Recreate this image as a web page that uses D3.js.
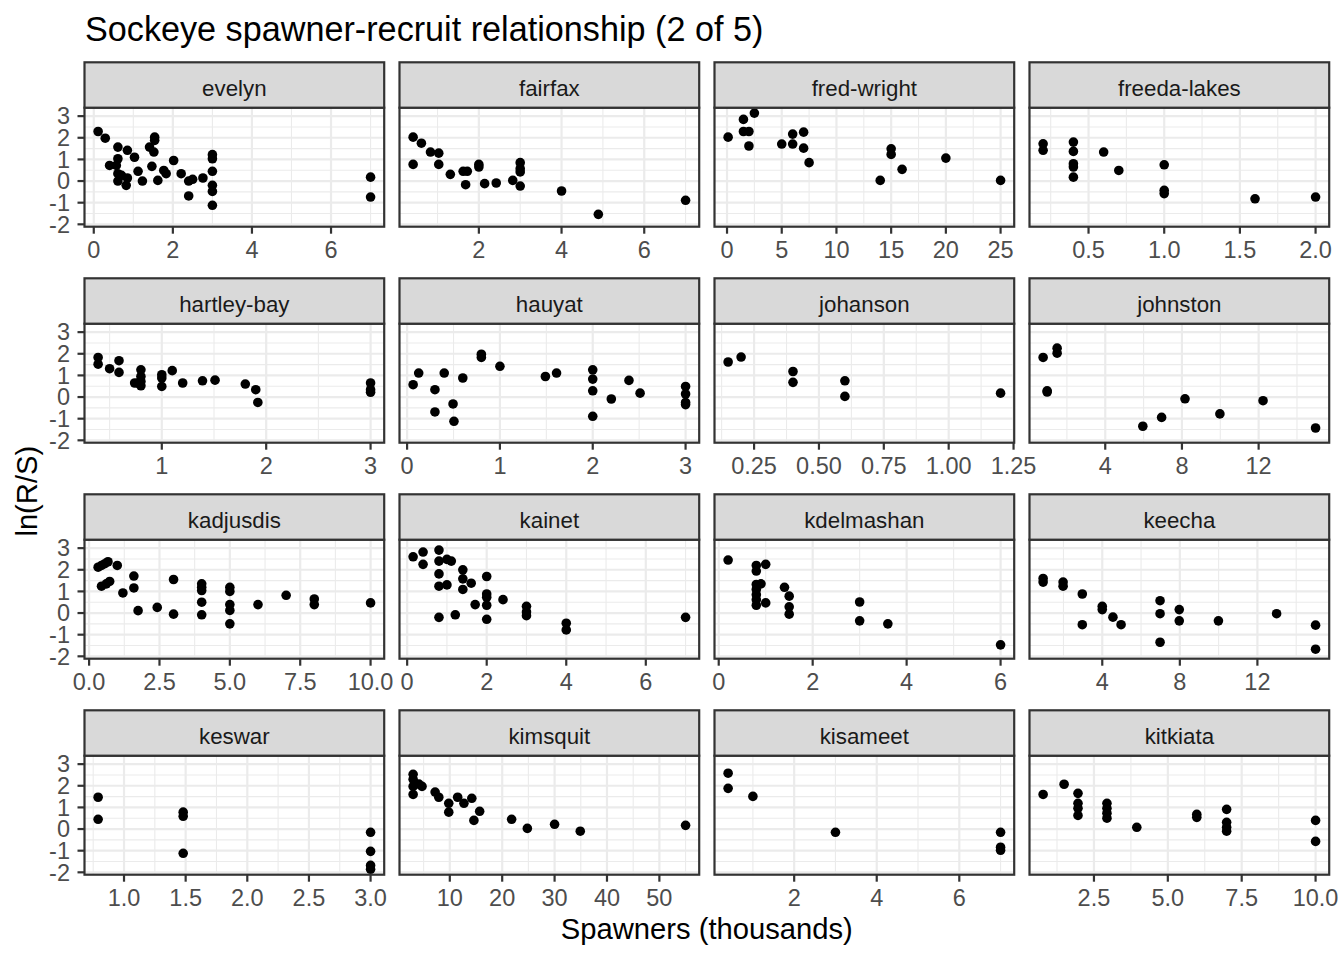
<!DOCTYPE html>
<html>
<head>
<meta charset="utf-8">
<script src="https://cdn.jsdelivr.net/npm/d3@7"></script>
<style>
  html, body { margin: 0; padding: 0; background: #ffffff; }
  svg { display: block; font-family: "Liberation Sans", Arial, sans-serif; }
</style>
</head>
<body>
<script>
// ---------------- DATA ----------------
const chartTitle = "Sockeye spawner-recruit relationship (2 of 5)";
const xTitle = "Spawners (thousands)";
const yTitle = "ln(R/S)";
const siteNames = ["evelyn","fairfax","fred-wright","freeda-lakes","hartley-bay","hauyat","johanson","johnston",
                   "kadjusdis","kainet","kdelmashan","keecha","keswar","kimsquit","kisameet","kitkiata"];

const evelynS = [0.11,0.29,0.40,0.61,0.61,0.57,0.61,0.61,0.70,0.85,0.82,0.85,1.03,1.12,1.23,1.41,1.54,1.54,1.52,1.47,1.62,1.77,1.83,2.02,2.21,2.40,2.50,2.40,2.76,3.0,3.0,3.0,3.0,3.0,3.0,7.0,7.0];
const evelynR = [2.29,1.98,0.72,1.57,1.03,0.72,0.34,0.0,0.26,0.14,-0.20,1.42,1.10,0.45,0.0,1.57,2.03,1.88,1.34,0.68,0.03,0.49,0.34,0.95,0.34,0.0,0.08,-0.69,0.14,1.22,1.03,0.45,-0.20,-0.48,-1.12,0.18,-0.74];
const fairfaxS = [0.41,0.61,0.83,1.03,0.41,1.03,1.31,1.62,1.72,1.68,2.0,2.0,2.14,2.42,2.82,3.0,3.0,3.0,3.0,4.0,4.89,7.0];
const fairfaxR = [2.03,1.75,1.34,1.29,0.77,0.77,0.31,0.45,0.45,-0.17,0.77,0.65,-0.12,-0.09,0.03,0.85,0.57,0.42,-0.23,-0.46,-1.54,-0.89];
const fredWrightS = [0.1,1.5,1.5,2.0,2.0,2.5,5.0,6.0,6.0,7.0,7.0,7.5,14.0,15.0,15.0,16.0,20.0,25.0];
const fredWrightR = [2.03,2.85,2.29,2.29,1.62,3.14,1.71,2.17,1.71,2.26,1.52,0.85,0.03,1.49,1.23,0.54,1.06,0.03];
const freedaLakesS = [0.2,0.2,0.4,0.4,0.4,0.4,0.4,0.6,0.7,1.0,1.0,1.0,1.6,2.0];
const freedaLakesR = [1.72,1.42,1.80,1.37,0.80,0.65,0.18,1.34,0.49,0.75,-0.43,-0.58,-0.82,-0.74];
const hartleyBayS = [0.39,0.39,0.50,0.59,0.59,0.74,0.77,0.80,0.80,0.80,0.80,1.0,1.0,1.0,1.10,1.20,1.39,1.51,1.80,1.90,1.92,3.0,3.0,3.0];
const hartleyBayR = [1.83,1.52,1.31,1.68,1.14,0.65,0.65,1.26,0.95,0.72,0.52,1.03,0.88,0.49,1.22,0.65,0.75,0.78,0.60,0.34,-0.25,0.65,0.34,0.22];
const hauyatS = [0.065,0.125,0.30,0.30,0.40,0.495,0.505,0.60,0.80,0.80,1.0,1.49,1.61,2.0,2.0,2.0,2.0,2.20,2.39,2.51,3.0,3.0,3.0,3.0];
const hauyatR = [0.57,1.11,0.34,-0.69,1.11,-0.32,-1.12,0.88,1.98,1.83,1.42,0.95,1.11,1.26,0.83,0.29,-0.89,-0.09,0.77,0.18,0.49,0.14,-0.25,-0.35];
const johansonS = [0.15,0.2,0.4,0.4,0.6,0.6,1.2];
const johansonR = [1.62,1.85,1.18,0.68,0.75,0.03,0.18];
const johnstonS = [0.76,0.97,0.97,1.49,1.49,5.96,6.94,8.16,9.98,12.23,14.97];
const johnstonR = [1.83,0.29,0.23,2.26,2.03,-1.35,-0.94,-0.08,-0.78,-0.17,-1.43];
const kadjusdisS = [0.32,0.44,0.56,0.67,1.0,0.44,0.61,0.73,1.2,1.59,1.59,1.74,2.42,3.0,3.0,4,4,4,4,4,5,5,5,5,5,6,7,8,8,10];
const kadjusdisR = [2.12,2.20,2.28,2.37,2.20,1.24,1.35,1.46,0.93,1.71,1.16,0.11,0.26,1.55,-0.05,1.35,1.19,1.04,0.50,-0.08,1.19,1.00,0.39,0.12,-0.50,0.39,0.82,0.65,0.39,0.47];
const kainetS = [0.15,0.40,0.40,0.8,0.8,1.0,1.11,0.8,0.8,1.0,1.40,1.40,1.40,1.61,2.0,2.0,2.0,2.0,2.0,1.71,2.41,0.8,1.21,3.0,3.0,3.0,4.0,4.0,7.0];
const kainetR = [2.60,2.82,2.25,2.91,2.40,2.48,2.40,1.81,1.24,1.30,2.00,1.58,1.09,1.38,1.69,0.88,0.73,0.36,-0.29,0.39,0.62,-0.20,-0.08,0.31,0.05,-0.12,-0.47,-0.78,-0.20];
const kdelmashanS = [0.2,0.8,0.8,1.0,0.8,0.9,0.8,0.8,0.8,0.8,1.0,1.4,1.5,1.5,1.5,3.0,3.0,3.6,6.0];
const kdelmashanR = [2.45,2.20,1.94,2.25,1.32,1.35,1.09,0.85,0.62,0.36,0.47,1.19,0.78,0.29,-0.05,0.51,-0.36,-0.50,-1.47];
const keechaS = [0.95,0.95,1.98,1.98,2.97,2.97,4.0,4.0,4.55,4.97,6.98,6.98,6.98,7.97,7.97,9.99,12.99,15.0,15.0];
const keechaR = [1.60,1.43,1.43,1.24,0.88,-0.54,0.31,0.16,-0.19,-0.54,0.57,-0.03,-1.35,0.16,-0.36,-0.36,-0.03,-0.56,-1.67];
const keswarS = [0.79,0.79,1.48,1.48,1.48,3.0,3.0,3.0,3.0];
const keswarR = [1.47,0.45,0.78,0.59,-1.12,-0.15,-1.03,-1.68,-1.86];
const kimsquitS = [3.0,3.0,3.0,3.0,4.1,4.7,7.2,7.9,9.8,9.8,11.5,12.7,14.2,14.6,15.7,21.8,24.8,30,34.9,55];
const kimsquitR = [2.53,2.30,1.97,1.60,2.08,1.97,1.71,1.47,1.19,0.78,1.47,1.19,1.42,0.40,0.82,0.45,0.03,0.22,-0.10,0.17];
const kisameetS = [0.4,0.4,1.0,3.0,7.0,7.0,7.0];
const kisameetR = [2.58,1.88,1.51,-0.15,-0.15,-0.84,-0.98];
const kitkiataS = [0.78,1.49,1.96,1.96,1.96,1.96,2.94,2.94,2.94,2.94,3.95,5.98,5.98,6.99,6.99,6.99,6.99,10.0,10.0];
const kitkiataR = [1.60,2.07,1.65,1.19,0.96,0.63,1.19,0.96,0.73,0.50,0.08,0.68,0.54,0.91,0.31,0.08,-0.10,0.40,-0.57];

// x-axis tick labels per panel
const evelynTicks = ["0","2","4","6"];
const fairfaxTicks = ["2","4","6"];
const fredWrightTicks = ["0","5","10","15","20","25"];
const freedaLakesTicks = ["0.5","1.0","1.5","2.0"];
const hartleyBayTicks = ["1","2","3"];
const hauyatTicks = ["0","1","2","3"];
const johansonTicks = ["0.25","0.50","0.75","1.00","1.25"];
const johnstonTicks = ["4","8","12"];
const kadjusdisTicks = ["0.0","2.5","5.0","7.5","10.0"];
const kainetTicks = ["0","2","4","6"];
const kdelmashanTicks = ["0","2","4","6"];
const keechaTicks = ["4","8","12"];
const keswarTicks = ["1.0","1.5","2.0","2.5","3.0"];
const kimsquitTicks = ["10","20","30","40","50"];
const kisameetTicks = ["2","4","6"];
const kitkiataTicks = ["2.5","5.0","7.5","10.0"];
// y-axis tick labels (shared)
const yTicks = ["-2","-1","0","1","2","3"];

// ---------------- LAYOUT ----------------
const panelSeries = [
  [evelynS, evelynR, evelynTicks], [fairfaxS, fairfaxR, fairfaxTicks],
  [fredWrightS, fredWrightR, fredWrightTicks], [freedaLakesS, freedaLakesR, freedaLakesTicks],
  [hartleyBayS, hartleyBayR, hartleyBayTicks], [hauyatS, hauyatR, hauyatTicks],
  [johansonS, johansonR, johansonTicks], [johnstonS, johnstonR, johnstonTicks],
  [kadjusdisS, kadjusdisR, kadjusdisTicks], [kainetS, kainetR, kainetTicks],
  [kdelmashanS, kdelmashanR, kdelmashanTicks], [keechaS, keechaR, keechaTicks],
  [keswarS, keswarR, keswarTicks], [kimsquitS, kimsquitR, kimsquitTicks],
  [kisameetS, kisameetR, kisameetTicks], [kitkiataS, kitkiataR, kitkiataTicks]
];

const W = 1344, H = 960;
const colX = [84.5, 399.5, 714.5, 1029.5];
const rowY = [62.3, 278.3, 494.3, 710.3];
const panelW = 299.7, stripH = 45.4, panelH = 119;
const tickLen = 7;
const borderCol = "#333333";
const gridCol = "#EBEBEB";

const svg = d3.select("body").append("svg").attr("width", W).attr("height", H);
svg.append("rect").attr("width", W).attr("height", H).attr("fill", "#fff");

function expand(arr) {
  const [mn, mx] = d3.extent(arr);
  const pad = (mx - mn) * 0.05;
  return [mn - pad, mx + pad];
}
function minorBreaks(majors, dom) {
  const step = majors.length > 1 ? majors[1] - majors[0] : 1;
  const ext = [majors[0] - step, ...majors, majors[majors.length - 1] + step];
  const out = [];
  for (let i = 0; i < ext.length - 1; i++) out.push((ext[i] + ext[i + 1]) / 2);
  return out.filter(v => v >= dom[0] && v <= dom[1]);
}

const allR = panelSeries.flatMap(p => p[1]);
const yDom = expand(allR);
const yMajor = yTicks.map(Number);
const yMinor = minorBreaks(yMajor, yDom);

panelSeries.forEach((p, i) => {
  const [sArr, rArr, tLabels] = p;
  const col = i % 4, row = Math.floor(i / 4);
  const left = colX[col], top = rowY[row];
  const pTop = top + stripH, pBot = pTop + panelH;
  const xDom = expand(sArr);
  const x = d3.scaleLinear().domain(xDom).range([left, left + panelW]);
  const y = d3.scaleLinear().domain(yDom).range([pBot, pTop]);
  const xMajor = tLabels.map(Number);
  const xMinor = minorBreaks(xMajor, xDom);

  const g = svg.append("g");
  g.append("rect").attr("x", left).attr("y", pTop).attr("width", panelW).attr("height", panelH).attr("fill", "#fff");
  g.selectAll(".ymin").data(yMinor).join("line")
    .attr("x1", left).attr("x2", left + panelW).attr("y1", d => y(d)).attr("y2", d => y(d))
    .attr("stroke", gridCol).attr("stroke-width", 1.1);
  g.selectAll(".xmin").data(xMinor).join("line")
    .attr("y1", pTop).attr("y2", pBot).attr("x1", d => x(d)).attr("x2", d => x(d))
    .attr("stroke", gridCol).attr("stroke-width", 1.1);
  g.selectAll(".ymaj").data(yMajor).join("line")
    .attr("x1", left).attr("x2", left + panelW).attr("y1", d => y(d)).attr("y2", d => y(d))
    .attr("stroke", gridCol).attr("stroke-width", 2.2);
  g.selectAll(".xmaj").data(xMajor).join("line")
    .attr("y1", pTop).attr("y2", pBot).attr("x1", d => x(d)).attr("x2", d => x(d))
    .attr("stroke", gridCol).attr("stroke-width", 2.2);
  g.selectAll(".pt").data(sArr.map((s, k) => [s, rArr[k]])).join("circle")
    .attr("cx", d => x(d[0])).attr("cy", d => y(d[1])).attr("r", 4.8).attr("fill", "#000");
  g.append("rect").attr("x", left).attr("y", pTop).attr("width", panelW).attr("height", panelH)
    .attr("fill", "none").attr("stroke", borderCol).attr("stroke-width", 2.2);
  g.append("rect").attr("x", left).attr("y", top).attr("width", panelW).attr("height", stripH)
    .attr("fill", "#D9D9D9").attr("stroke", borderCol).attr("stroke-width", 2.2);
  g.append("text").attr("x", left + panelW / 2).attr("y", top + 34)
    .attr("text-anchor", "middle").attr("font-size", 22.3).attr("fill", "#1A1A1A").text(siteNames[i]);
  g.selectAll(".xt").data(xMajor).join("line")
    .attr("x1", d => x(d)).attr("x2", d => x(d)).attr("y1", pBot).attr("y2", pBot + tickLen)
    .attr("stroke", borderCol).attr("stroke-width", 2.2);
  g.selectAll(".xl").data(tLabels).join("text")
    .attr("x", d => x(+d)).attr("y", pBot + 31.3).attr("text-anchor", "middle")
    .attr("font-size", 23.5).attr("fill", "#4D4D4D").text(d => d);
  if (col === 0) {
    g.selectAll(".yt").data(yMajor).join("line")
      .attr("x1", left - tickLen).attr("x2", left).attr("y1", d => y(d)).attr("y2", d => y(d))
      .attr("stroke", borderCol).attr("stroke-width", 2.2);
    g.selectAll(".yl").data(yTicks).join("text")
      .attr("x", left - 14.5).attr("y", d => y(+d)).attr("dy", "0.35em").attr("text-anchor", "end")
      .attr("font-size", 23.5).attr("fill", "#4D4D4D").text(d => d);
  }
});

// titles
svg.append("text").attr("x", 85).attr("y", 41).attr("font-size", 34.2).attr("fill", "#000").text(chartTitle);
svg.append("text").attr("x", (colX[0] + colX[3] + panelW) / 2).attr("y", 939)
  .attr("text-anchor", "middle").attr("font-size", 29.2).attr("fill", "#000").text(xTitle);
const yMid = (rowY[0] + stripH + rowY[3] + stripH + panelH) / 2;
svg.append("text").attr("transform", `translate(37,${yMid}) rotate(-90)`)
  .attr("text-anchor", "middle").attr("font-size", 29.2).attr("fill", "#000").text(yTitle);
</script>
</body>
</html>
